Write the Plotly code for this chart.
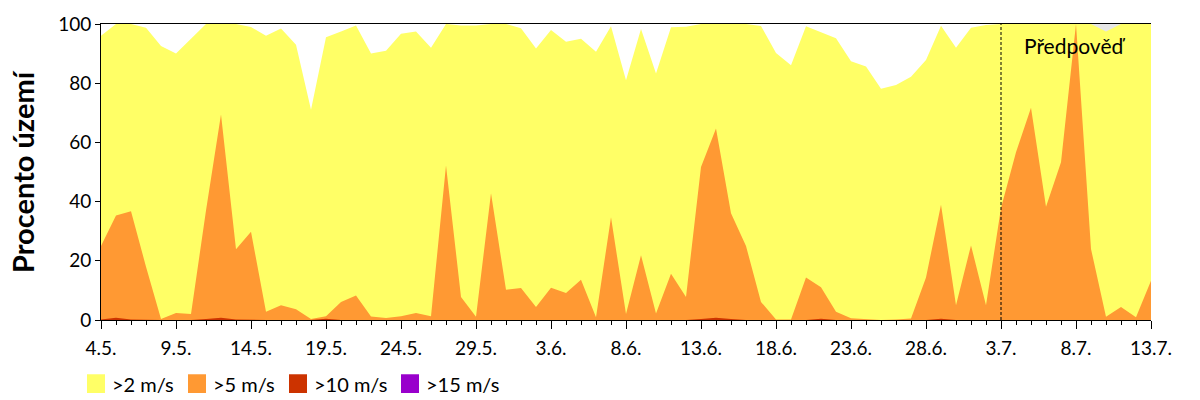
import plotly.graph_objects as go

# ---- data ----
days = list(range(71))  # day index from 4.5.
tick_days = [0, 5, 10, 15, 20, 25, 30, 35, 40, 45, 50, 55, 60, 65, 70]
tick_labels = ["4.5.", "9.5.", "14.5.", "19.5.", "24.5.", "29.5.", "3.6.", "8.6.",
               "13.6.", "18.6.", "23.6.", "28.6.", "3.7.", "8.7.", "13.7."]

gt2 = [96, 100, 100, 98.7, 92.6, 90, 95, 100, 100, 100,
       99, 96, 98.5, 93, 71, 95.5, 97.5, 99.5, 90, 91,
       96.7, 97.5, 92, 100, 99.5, 99.5, 100, 100, 98.6, 91.7,
       98, 94, 95, 90.6, 99.2, 81, 98.3, 83.3, 98.9, 99.1,
       100, 100, 100, 100, 99.3, 90.2, 86.1, 99.2, 97.2, 95.2,
       87.4, 85.6, 78.1, 79.4, 82.2, 87.8, 99.4, 92, 98.7, 99.7,
       100, 100, 100, 100, 100, 100, 100, 97.5, 100, 100,
       100]

gt5 = [25, 35.3, 36.7, 18, 0.3, 2.4, 2, 37, 69.4, 23.9,
       29.8, 2.8, 5, 3.6, 0.3, 1.3, 6.1, 8.3, 1.2, 0.7,
       1.3, 2.4, 1.3, 52.2, 7.8, 1.1, 42.8, 10.2, 10.8, 4.4,
       10.9, 9.1, 13.6, 0.9, 34.7, 2, 21.9, 2.2, 15.6, 7.8,
       51.7, 64.7, 36.1, 25, 6.1, 0.2, 0.2, 14.4, 11.1, 2.8,
       0.6, 0.2, 0, 0.2, 0.5, 14.4, 38.9, 5, 25.2, 5,
       37.8, 56.7, 71.7, 38.3, 53.3, 100, 24, 1.1, 4.4, 0.9,
       13.3]

gt10 = [0.2, 0.8, 0.2, 0, 0, 0, 0, 0.3, 0.8, 0.2,
        0, 0, 0, 0, 0, 0.4, 0, 0, 0, 0,
        0, 0, 0, 0, 0, 0, 0, 0, 0, 0,
        0, 0, 0, 0, 0, 0, 0, 0, 0, 0,
        0.3, 0.8, 0.3, 0, 0, 0, 0, 0, 0.4, 0,
        0, 0, 0, 0, 0, 0, 0.4, 0, 0, 0,
        0, 0, 0, 0, 0, 0, 0, 0, 0, 0,
        0]

gt15 = [0] * 71

series = [
    (">2 m/s", gt2, "#FFFF66"),
    (">5 m/s", gt5, "#FF9933"),
    (">10 m/s", gt10, "#CC3300"),
    (">15 m/s", gt15, "#9900CC"),
]

forecast_start = 60
forecast_label = "Předpověď"
y_title = "Procento území"

FONT = "Lato"

# ---- layout helpers (pixel -> paper) ----
L, R, T, B = 101, 49, 20, 80
W, H = 1200, 400
PW = W - L - R
PH = H - T - B


def px(x):
    return (x - L) / PW


def py(y):
    return (H - B - y) / PH


fig = go.Figure()
for name, vals, col in series:
    fig.add_trace(go.Scatter(
        x=days, y=vals, name=name, mode="lines",
        line=dict(width=0, color=col), fill="tozeroy", fillcolor=col,
        showlegend=False, hoverinfo="x+y"))

shapes = [
    # forecast background
    dict(type="rect", xref="x", yref="y", x0=forecast_start, x1=70, y0=0, y1=100,
         fillcolor="#E6E6E6", line=dict(width=0), layer="below"),
    # forecast divider
    dict(type="line", xref="x", yref="y", x0=forecast_start, x1=forecast_start, y0=0, y1=100,
         line=dict(color="black", width=1, dash="3px,2px"), layer="above"),
]

annotations = [
    dict(text=forecast_label, x=64.9, y=92.7, xref="x", yref="y", showarrow=False,
         font=dict(family=FONT, size=21, color="black"), xanchor="center", yanchor="middle"),
    dict(text=y_title, x=px(22), y=py(170), xref="paper", yref="paper", showarrow=False,
         textangle=-90, font=dict(family=FONT, size=29, color="black", weight="bold"),
         xanchor="center", yanchor="middle"),
]

legend_sq = [87, 188, 289, 401]
for (name, vals, col), sx in zip(series, legend_sq):
    shapes.append(dict(type="rect", xref="paper", yref="paper",
                       x0=px(sx), x1=px(sx + 18), y0=py(394), y1=py(375),
                       fillcolor=col, line=dict(width=0)))
    annotations.append(dict(text=name, x=px(sx + 23), y=py(385), xref="paper", yref="paper",
                            showarrow=False, xanchor="left", yanchor="middle",
                            font=dict(family=FONT, size=20, color="black")))

fig.update_layout(
    width=W, height=H,
    margin=dict(l=L, r=R, t=T, b=B),
    paper_bgcolor="white", plot_bgcolor="white",
    font=dict(family=FONT, size=19, color="black"),
    shapes=shapes, annotations=annotations,
    showlegend=False,
)
fig.update_xaxes(
    range=[0, 70], tickmode="array", tickvals=tick_days, ticktext=tick_labels,
    showline=True, linecolor="black", linewidth=1, mirror=True,
    ticks="outside", ticklen=8, tickcolor="black", tickwidth=1,
    minor=dict(dtick=1, tick0=0, ticks="outside", ticklen=4, tickcolor="black", showgrid=False),
    showgrid=False, zeroline=False, tickfont=dict(family=FONT, size=19),
    ticklabelstandoff=3,
)
fig.update_yaxes(
    range=[0, 100], tickvals=[0, 20, 40, 60, 80, 100],
    showline=True, linecolor="black", linewidth=1,
    ticks="outside", ticklen=5, tickcolor="black",
    showgrid=False, zeroline=False, tickfont=dict(family=FONT, size=19),
)

fig.write_html("out.html")
